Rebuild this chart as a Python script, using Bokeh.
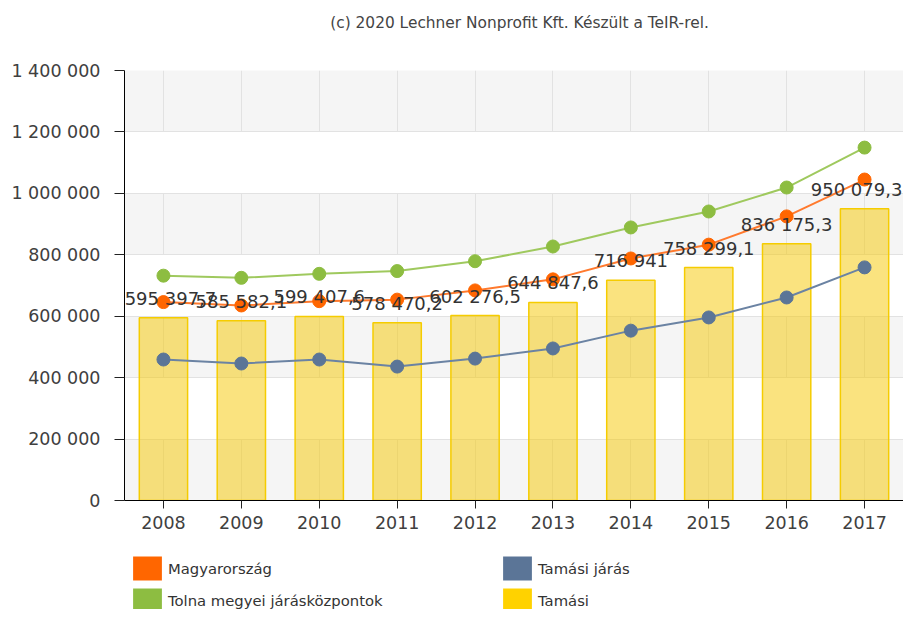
from bokeh.plotting import figure
from bokeh.models import (ColumnDataSource, Range1d, FixedTicker, Legend, LegendItem, Label)
from bokeh.layouts import column
from bokeh.core.properties import value
from bokeh.embed import file_html
from bokeh.resources import INLINE

years = ["2008", "2009", "2010", "2011", "2012", "2013", "2014", "2015", "2016", "2017"]
tamasi = [595397.7, 585582.1, 599407.6, 578470.2, 602276.5, 644847.6, 716941.0, 758299.1, 836175.3, 950079.3]
magyarorszag = [646000, 635000, 649000, 654000, 684000, 720000, 788000, 833000, 925000, 1045000]
tolna = [732000, 725000, 738000, 747000, 779000, 827000, 889000, 941000, 1019000, 1149000]
tamasi_jaras = [459000, 446000, 459000, 436000, 462000, 495000, 553000, 596000, 661000, 759000]
y_ticks = [0, 200000, 400000, 600000, 800000, 1000000, 1200000, 1400000]

names = ["Magyarország", "Tolna megyei járásközpontok", "Tamási járás", "Tamási"]
colors = ["#ff6600", "#8dbd41", "#5b7597", "#ffd200"]
title_text = "(c) 2020 Lechner Nonprofit Kft. Készült a TeIR-rel."

FONT = "DejaVu Sans"
W = 903
LEFT = 124


def fmt(v):
    whole = int(v)
    s = f"{whole:,}".replace(",", " ")
    frac = round(v - whole, 1)
    if abs(frac) > 1e-9:
        s += "," + str(int(round(frac * 10)))
    return s


# ---------- title strip ----------
t = figure(width=W, height=40, x_range=Range1d(LEFT, W), y_range=Range1d(40, 0),
           x_axis_type=None, y_axis_type=None, output_backend="svg",
           toolbar_location=None, min_border=0, min_border_left=LEFT)
t.outline_line_color = None
t.grid.visible = False
t.add_layout(Label(x=519, y=22, text=title_text, text_font=FONT, text_font_size="15.4px",
                   text_color="#444444", text_align="center", text_baseline="middle"))

# ---------- main chart ----------
# small horizontal nudges so that the edge labels stay inside the plot area
offsets = [7] + [0] * (len(years) - 2) + [-8]
src = ColumnDataSource(dict(
    year=years, tamasi=tamasi, magy=magyarorszag, tolna=tolna, jaras=tamasi_jaras,
    lbl=[fmt(v) for v in tamasi], xoff=offsets,
))

p = figure(width=W, height=512, x_range=years, y_range=Range1d(0, 1400000),
           output_backend="svg", toolbar_location=None,
           min_border_left=LEFT, min_border_right=0, min_border_top=30, min_border_bottom=52)
p.outline_line_color = None
p.background_fill_color = "#f5f5f5"
p.border_fill_color = "#ffffff"

p.yaxis.ticker = FixedTicker(ticks=y_ticks)
p.yaxis.major_label_overrides = {tk: fmt(tk) for tk in y_ticks}
p.yaxis.major_label_text_font = FONT
p.yaxis.major_label_text_font_size = "17.5px"
p.yaxis.major_label_text_color = "#404040"
p.yaxis.axis_line_color = "#000000"
p.yaxis.major_tick_line_color = "#222222"
p.yaxis.major_tick_out = 10
p.yaxis.major_tick_in = 0
p.yaxis.minor_tick_line_color = None
p.yaxis.major_label_standoff = 14

p.xaxis.major_label_text_font = FONT
p.xaxis.major_label_text_font_size = "17.5px"
p.xaxis.major_label_text_color = "#404040"
p.xaxis.axis_line_color = "#000000"
p.xaxis.major_tick_line_color = "#222222"
p.xaxis.major_tick_out = 8
p.xaxis.major_tick_in = 0
p.xaxis.major_label_standoff = 7
p.x_range.range_padding = 0

p.ygrid.grid_line_color = "#e2e2e2"
p.ygrid.band_fill_color = "#ffffff"
p.ygrid.band_fill_alpha = 1.0
p.xgrid.grid_line_color = "#e2e2e2"

p.vbar(x="year", top="tamasi", width=0.62, source=src,
       fill_color="#f5c800", fill_alpha=0.5, line_color="#f5cc00", line_width=1.5)

for col, c, lc in [("tolna", "#8dbd41", "#9fc95e"), ("magy", "#ff6600", "#ff7a2e"),
                   ("jaras", "#5b7597", "#6b83a3")]:
    p.line(x="year", y=col, source=src, line_color=lc, line_width=2)
    p.scatter(x="year", y=col, source=src, size=13, fill_color=c, line_color=c)

p.text(x="year", y="tamasi", text="lbl", source=src, text_font=value(FONT),
       text_font_size="18px", text_color="#333333", text_align="center",
       text_baseline="bottom", y_offset=-9, x_offset="xoff")

# ---------- legend strip ----------
lg = figure(width=W, height=57, x_range=Range1d(LEFT, W), y_range=Range1d(0, 1),
            x_axis_type=None, y_axis_type=None, output_backend="svg",
            toolbar_location=None, min_border=0, min_border_left=LEFT)
lg.outline_line_color = None
lg.grid.visible = False
# legend-only proxy glyphs (zero height, outside the visible range)
proxies = [lg.vbar(x=[0], top=[0], width=1, fill_color=c, line_color=None) for c in colors]
items = [LegendItem(label=n, renderers=[r]) for n, r in zip(names, proxies)]
legend = Legend(items=items, orientation="vertical", nrows=2, location=(5, -6),
                glyph_width=36, glyph_height=30, label_standoff=3, label_width=329,
                spacing=2, padding=0, margin=0, border_line_color=None,
                background_fill_alpha=0, label_text_font=FONT, label_text_font_size="14.8px",
                label_text_color="#333333")
lg.add_layout(legend, "center")

layout = column(t, p, lg, spacing=0)
open("out.html", "w").write(file_html(layout, INLINE))
